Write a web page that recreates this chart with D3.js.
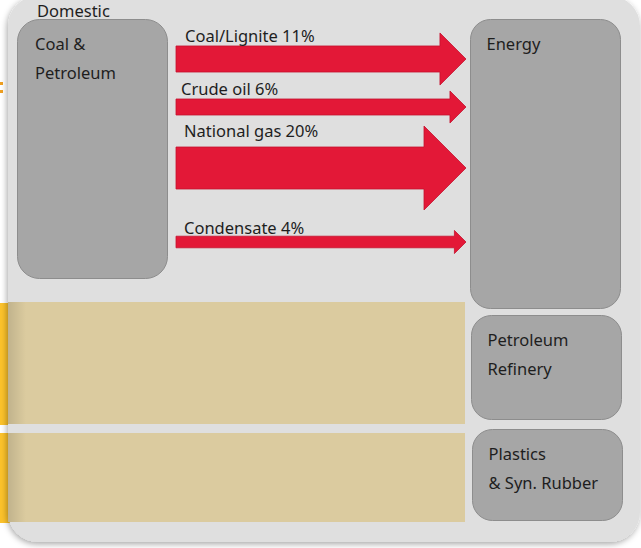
<!DOCTYPE html>
<html>
<head>
<meta charset="utf-8">
<script src="https://cdn.jsdelivr.net/npm/d3@7"></script>
<style>
  html, body { margin: 0; padding: 0; background: #ffffff; }
  svg { display: block; }
  text { font-family: "Noto Sans", "Open Sans", sans-serif; fill: #1e1e1e; }
</style>
</head>
<body>
<svg id="chart" width="641" height="548"></svg>
<script>
// Domestic primary energy flows (share of supply)
const flowNames = ["Coal/Lignite", "Crude oil", "National gas", "Condensate"];
const flowShares = [11, 6, 20, 4];

// Destination sectors
const sectors = [["Energy"], ["Petroleum", "Refinery"], ["Plastics", "& Syn. Rubber"]];
const sourceLabel = ["Coal &", "Petroleum"];
const groupTitle = "Domestic";

// ---- layout ----
const W = 641, H = 548;
const rowCenter = [59, 107, 168, 242];   // vertical centre of each flow arrow
const arrowX0 = 176, arrowTip = 466;
const labelOffsetX = [9, 5, 8, 8];
const labelGap = [4, 4, 10, 2];

const svg = d3.select("#chart");
const defs = svg.append("defs");

const sh = defs.append("filter").attr("id", "panelShadow")
  .attr("x", "-5%").attr("y", "-5%").attr("width", "110%").attr("height", "110%");
sh.append("feDropShadow").attr("dx", -1).attr("dy", 2).attr("stdDeviation", 3)
  .attr("flood-color", "#000").attr("flood-opacity", 0.35);

const edge = defs.append("linearGradient").attr("id", "leftEdge")
  .attr("x1", 0).attr("x2", 1).attr("y1", 0).attr("y2", 0);
edge.append("stop").attr("offset", 0).attr("stop-color", "#000").attr("stop-opacity", 0.12);
edge.append("stop").attr("offset", 1).attr("stop-color", "#000").attr("stop-opacity", 0);

// yellow strips peeking out on the left
svg.append("rect").attr("x", 0).attr("y", 303).attr("width", 12).attr("height", 122).attr("fill", "#fcc22a");
svg.append("rect").attr("x", 0).attr("y", 433).attr("width", 12).attr("height", 90).attr("fill", "#fcc22a");
svg.append("rect").attr("x", 0).attr("y", 82).attr("width", 3).attr("height", 3).attr("fill", "#f0a020");
svg.append("rect").attr("x", 0).attr("y", 90).attr("width", 3).attr("height", 3).attr("fill", "#f0a020");

// main panel
svg.append("rect").attr("x", 8).attr("y", -4).attr("width", 632).attr("height", 546)
  .attr("rx", 30).attr("fill", "#dfdfdf").attr("filter", "url(#panelShadow)");

// tan bands
const bands = [[302, 424], [433, 522]];
bands.forEach(([y0, y1]) => {
  svg.append("rect").attr("x", 8).attr("y", y0).attr("width", 457).attr("height", y1 - y0)
    .attr("fill", "#dbcb9f");
  svg.append("rect").attr("x", 8).attr("y", y0).attr("width", 18).attr("height", y1 - y0)
    .attr("fill", "url(#leftEdge)");
});

// gray boxes
const boxFill = "#a6a6a6", boxStroke = "#8d8d8d";
function box(x, y, w, h, r) {
  svg.append("rect").attr("x", x).attr("y", y).attr("width", w).attr("height", h)
    .attr("rx", r).attr("fill", boxFill).attr("stroke", boxStroke).attr("stroke-width", 1);
}
box(17.5, 19.5, 150, 259, 22);
const sectorBoxes = [[470.5, 19.5, 150, 289], [471.5, 315.5, 150, 104], [472.5, 429.5, 150, 91]];
sectorBoxes.forEach(b => box(b[0], b[1], b[2], b[3], 20));

// text
const fs = 16.5;
svg.append("text").attr("x", 37).attr("y", 17).attr("font-size", fs).text(groupTitle);
sourceLabel.forEach((t, i) => svg.append("text").attr("x", 35).attr("y", 50 + i * 29)
  .attr("font-size", fs).text(t));
sectors.forEach((lines, j) => {
  const b = sectorBoxes[j];
  lines.forEach((t, i) => svg.append("text").attr("x", b[0] + 16).attr("y", b[1] + 30 + i * 29)
    .attr("font-size", fs).text(t));
});

// shaft thickness from share
const thick = d3.scalePow().exponent(0.8).domain([0, 20]).range([0, 42]);

const arrows = svg.append("g");
flowNames.forEach((name, i) => {
  const t = thick(flowShares[i]);
  const cy = rowCenter[i];
  const neck = arrowTip - t;
  const pts = [
    [arrowX0, cy - t / 2], [neck, cy - t / 2], [neck, cy - t], [arrowTip, cy],
    [neck, cy + t], [neck, cy + t / 2], [arrowX0, cy + t / 2]
  ];
  arrows.append("path")
    .attr("d", d3.line()(pts) + "Z")
    .attr("fill", "#e31837").attr("stroke", "#c4122e").attr("stroke-width", 0.8)
    .attr("stroke-linejoin", "miter");
  arrows.append("text")
    .attr("x", arrowX0 + labelOffsetX[i])
    .attr("y", cy - t / 2 - labelGap[i])
    .attr("font-size", fs)
    .text(`${name} ${flowShares[i]}%`);
});
</script>
</body>
</html>
